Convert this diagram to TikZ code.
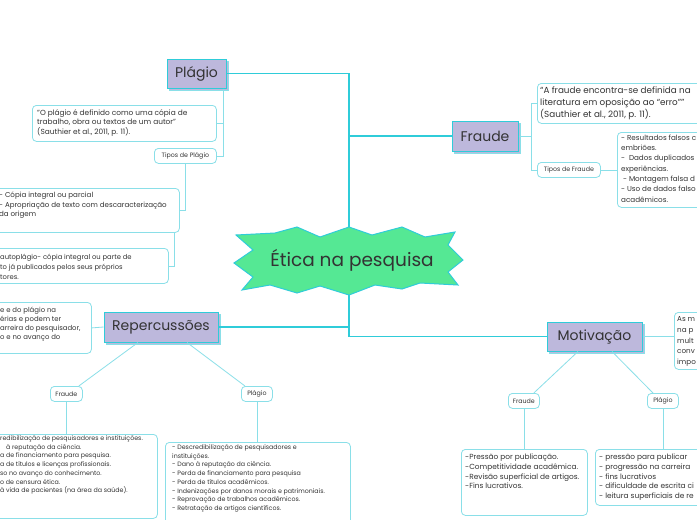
\documentclass[tikz,border=0pt]{standalone}
\usepackage{fontspec}
\setmainfont{Poppins}
\usetikzlibrary{shadows}
\definecolor{cl}{HTML}{2FCCD9}
\definecolor{cl2}{HTML}{8ADFE8}
\definecolor{lav}{HTML}{BDB8DC}
\definecolor{grn}{HTML}{55E894}
\definecolor{txt}{HTML}{333333}
\begin{document}
\begin{tikzpicture}[x=1pt,y=-1pt,
  mainbox/.style={draw=cl, line width=1pt, fill=lav, text=txt, inner sep=0pt,
    font=\fontsize{14}{16}\selectfont,
    copy shadow={shadow xshift=2.5pt, shadow yshift=-2.5pt, draw=cl2, fill=lav}},
  sub/.style={draw=cl2, line width=0.8pt, fill=white, rounded corners=4pt, inner sep=0pt, anchor=north west},
  lab/.style={sub, text=txt, font=\fontsize{6.3}{8}\selectfont},
  tx/.style={anchor=north west, inner sep=0pt, align=left, text=txt},
  ln/.style={draw=cl, line width=1.1pt},
  ln2/.style={draw=cl2, line width=0.8pt}]
\useasboundingbox (0,0) rectangle (697,520);
\fill[white] (0,0) rectangle (697,520);

% central starburst
\filldraw[fill=grn, draw=cl, line width=1pt]
  (236,235) -- (275,233) -- (297,227) -- (320,237) -- (349,227) -- (372,235) -- (402,227)
  -- (425,237) -- (455,232) -- (448,245) -- (463,260) -- (448,272) -- (458,285)
  -- (420,283) -- (402,289) -- (375,285) -- (349,295) -- (320,286) -- (297,293)
  -- (270,285) -- (242,290) -- (253,277) -- (234,263) -- (253,250) -- cycle;
\node[text=txt, font=\fontsize{18.5}{20}\selectfont] (c) at (352,260) {Ética na pesquisa};
\coordinate (ctop) at (349,227);
\coordinate (cbot) at (349,295);

% main branches
\node[mainbox, minimum width=59pt, minimum height=29pt] (pl) at (196.5,73.5) {Plágio};
\node[mainbox, minimum width=66pt, minimum height=30pt] (fr) at (485,136) {Fraude};
\node[mainbox, minimum width=114pt, minimum height=30pt] (rep) at (161,327) {Repercussões};
\node[mainbox, minimum width=95pt, minimum height=29pt] (mot) at (594.5,336.5) {Motivação};

\draw[ln] (pl.east) -| (ctop);
\draw[ln] (fr.west) -- (fr.west -| ctop);
\draw[ln] (rep.east) -| (cbot);
\draw[ln] (mot.west) -| (cbot);

% Plagio sub-tree
\node[sub, minimum width=184pt, minimum height=36pt] (qpl) at (32,105) {};
\node[tx, font=\fontsize{7.4}{9.5}\selectfont] (qplt) at (37,109)
  {"O plágio é definido como uma cópia de\\trabalho, obra ou textos de um autor"\\(Sauthier et al., 2011, p. 11).};
\node[lab, minimum width=62pt, minimum height=15pt] (tpl) at (154,148) {Tipos de Plágio};
\draw[ln2] ([xshift=-3pt]pl.south east) |- (qpl.east);
\draw[ln2] ([xshift=-3pt]pl.south east) |- (tpl.east);

\node[sub, minimum width=199pt, minimum height=44pt] (pb1) at (-20,188) {};
\node[tx, font=\fontsize{7.1}{9.5}\selectfont] (pb1t) at (-1,192)
  {- Cópia integral ou parcial\\- Apropriação de texto com descaracterização\\da origem};
\draw[ln2] (tpl.south) |- (pb1.east);

\node[sub, minimum width=188pt, minimum height=35pt] (pb2) at (-20,248) {};
\node[tx, font=\fontsize{6.8}{10}\selectfont] (pb2t) at (0,253.5)
  {autoplágio- cópia integral ou parte de\\to já publicados pelos seus próprios\\tores.};
\draw[ln2] ([xshift=-5pt]pb1.south east) |- (pb2.east);

% Repercussoes sub-tree
\node[sub, minimum width=111pt, minimum height=51pt] (rbl) at (-20,302) {};
\node[tx, font=\fontsize{6.9}{9}\selectfont] (rblt) at (0,306.5)
  {e e do plágio na\\érias e podem ter\\arreira do pesquisador,\\o e no avanço do};
\draw[ln2] (rbl.east) -- (rep.west);

\node[lab, minimum width=32pt, minimum height=15pt] (rf) at (50,386) {Fraude};
\node[lab, minimum width=31pt, minimum height=15pt] (rp) at (241,386) {Plágio};
\draw[ln2] ([xshift=-23pt]rep.south) -- ([xshift=-4pt]rf.north east);
\draw[ln2] ([xshift=26pt]rep.south) -- ([xshift=4pt]rp.north west);

\node[sub, minimum width=177pt, minimum height=84pt] (rfb) at (-20,434) {};
\node[tx, font=\fontsize{6.3}{8.7}\selectfont] (rfbt) at (0,435.5)
  {redibilização de pesquisadores e instituições.\\\hspace*{6pt}à reputação da ciência.\\a de financiamento para pesquisa.\\a de títulos e licenças profissionais.\\so no avanço do conhecimento.\\o de censura ética.\\à vida de pacientes (na área da saúde).};
\draw[ln2] (rf.south) -- (rf.south |- rfb.north);

\node[sub, minimum width=185pt, minimum height=90pt] (rpb) at (165,442) {};
\node[tx, font=\fontsize{6.3}{8.7}\selectfont] (rpbt) at (172,444.5)
  {- Descredibilização de pesquisadores e\\instituições.\\- Dano à reputação da ciência.\\- Perda de financiamento para pesquisa\\- Perda de títulos acadêmicos.\\- Indenizações por danos morais e patrimoniais.\\- Reprovação de trabalhos acadêmicos.\\- Retratação de artigos científicos.};
\draw[ln2] (rp.south) -- (rp.south |- rpb.north);

% Fraude sub-tree
\node[sub, minimum width=180pt, minimum height=40pt] (fq) at (537,83) {};
\node[tx, font=\fontsize{8.8}{12}\selectfont] (fqt) at (540,87)
  {“A fraude encontra-se definida na\\literatura em oposição ao “erro””\\(Sauthier et al., 2011, p. 11).};
\node[lab, minimum width=63pt, minimum height=15pt] (tf) at (537,162) {Tipos de Fraude};
\draw[ln2] (fr.east) -- ++(13,0) |- (fq.west);
\draw[ln2] (fr.east) ++(13,0) |- (tf.west);

\node[sub, minimum width=100pt, minimum height=75pt] (fl) at (617,132) {};
\node[tx, font=\fontsize{7.2}{10.3}\selectfont] (flt) at (621,134.5)
  {- Resultados falsos c\\embriões.\\-\ \ Dados duplicados\\experiências.\\\ - Montagem falsa d\\- Uso de dados falso\\acadêmicos.};
\draw[ln2] (tf.east) -- (tf.east -| fl.west);

% Motivacao sub-tree
\node[sub, minimum width=50pt, minimum height=57pt] (mb) at (674,312) {};
\node[tx, font=\fontsize{7.2}{10.7}\selectfont] (mbt) at (677,316.5)
  {As m\\na p\\mult\\conv\\impo};
\draw[ln2] (mot.east) -- (mot.east -| mb.west);

\node[lab, minimum width=31pt, minimum height=15pt] (mf) at (508,393) {Fraude};
\node[lab, minimum width=31pt, minimum height=15pt] (mp) at (647,393) {Plágio};
\draw[ln2] ([xshift=-16.5pt]mot.south) -- ([xshift=-6pt]mf.north east);
\draw[ln2] ([xshift=17.5pt]mot.south) -- ([xshift=6pt]mp.north west);

\node[sub, minimum width=126pt, minimum height=66pt] (mfb) at (461,449) {};
\node[tx, font=\fontsize{7.4}{9.7}\selectfont] (mfbt) at (465,454)
  {-Pressão por publicação.\\-Competitividade acadêmica.\\-Revisão superficial de artigos.\\-Fins lucrativos.};
\draw[ln2] (mf.south) -- (mf.south |- mfb.north);

\node[sub, minimum width=120pt, minimum height=56pt] (mpb) at (595,449) {};
\node[tx, font=\fontsize{7.4}{9.7}\selectfont] (mpbt) at (599,454)
  {- pressão para publicar\\- progressão na carreira\\- fins lucrativos\\- dificuldade de escrita ci\\- leitura superficiais de re};
\draw[ln2] (mp.south) -- (mp.south |- mpb.north);
\end{tikzpicture}
\end{document}
